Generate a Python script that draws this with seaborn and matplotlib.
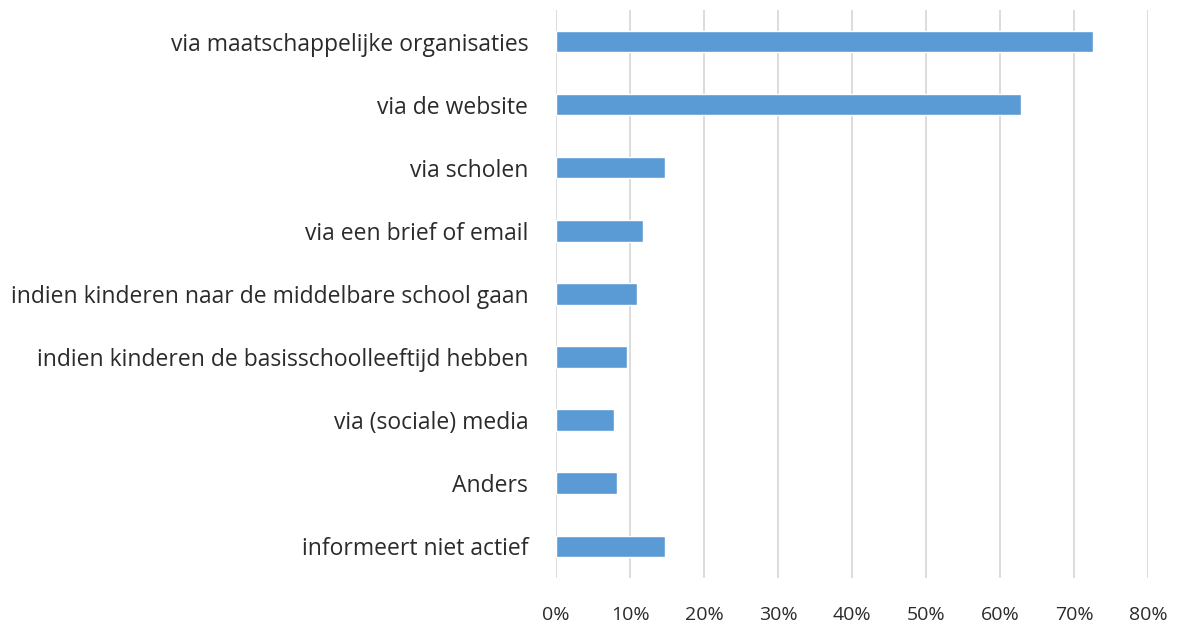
import matplotlib
matplotlib.use("Agg")
import matplotlib.pyplot as plt
import seaborn as sns
import pandas as pd
from matplotlib.ticker import FuncFormatter

categories = [
    "via maatschappelijke organisaties",
    "via de website",
    "via scholen",
    "via een brief of email",
    "indien kinderen naar de middelbare school gaan",
    "indien kinderen de basisschoolleeftijd hebben",
    "via (sociale) media",
    "Anders",
    "informeert niet actief",
]
values = [0.726, 0.628, 0.147, 0.117, 0.109, 0.096, 0.079, 0.082, 0.147]
xticks = [0, 0.1, 0.2, 0.3, 0.4, 0.5, 0.6, 0.7, 0.8]

sns.set_theme(style="white")
plt.rcParams['font.family'] = ['Open Sans', 'DejaVu Sans']

df = pd.DataFrame({"cat": categories, "val": values})

fig = plt.figure(figsize=(11.78, 6.26), dpi=100)
ax = fig.add_axes([0.472, 0.077, 0.9745 - 0.472, 0.984 - 0.077])
sns.barplot(data=df, x="val", y="cat", color="#5B9BD5", width=0.34,
            saturation=1, ax=ax, orient="h")
ax.set_xlim(0, 0.8)
ax.set_ylim(len(categories) - 0.5, -0.5)
ax.set_xticks(xticks)
ax.xaxis.set_major_formatter(FuncFormatter(lambda v, p: f"{round(v*100)}%"))
ax.grid(axis="x", color="#D9D9D9", linewidth=1.3)
ax.set_axisbelow(True)
for s in ax.spines.values():
    s.set_visible(False)
ax.set_xlabel("")
ax.set_ylabel("")
ax.tick_params(axis="y", length=0, pad=20, labelsize=16.5, labelcolor="#2b2b2b")
ax.tick_params(axis="x", length=0, pad=20, labelsize=14, labelcolor="#2b2b2b")

fig.savefig("out.png", dpi=100)
